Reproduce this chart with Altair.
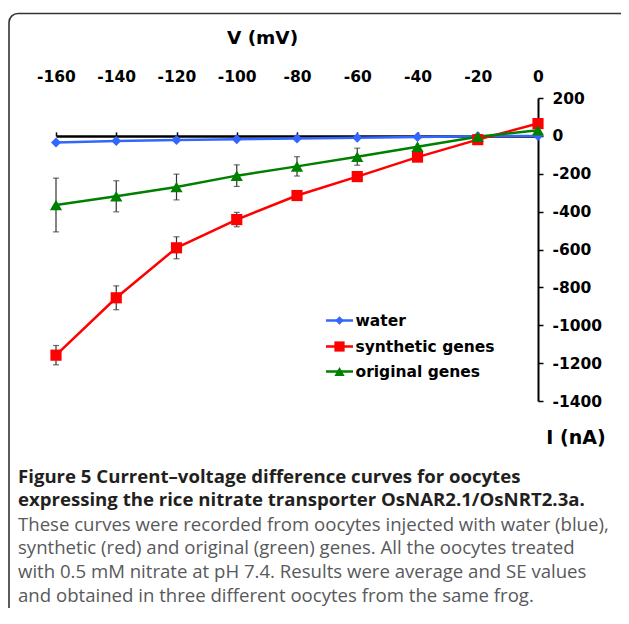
import altair as alt
import pandas as pd

# ---------------- data ----------------
voltages = [-160, -140, -120, -100, -80, -60, -40, -20, 0]
series_names = ["water", "synthetic genes", "original genes"]
water = [-35, -27, -22, -18, -14, -10, -6, -2, 0]
synthetic = [-1158, -855, -591, -442, -315, -215, -112, -20, 65]
original = [-365, -319, -270, -210, -161, -110, -57, -5, 30]
water_se = [0, 0, 0, 0, 0, 0, 0, 0, 0]
synthetic_se = [51, 63, 58, 38, 0, 0, 0, 0, 0]
original_se = [142, 82, 68, 57, 51, 45, 0, 0, 0]

x_ticks = [-160, -140, -120, -100, -80, -60, -40, -20, 0]
y_ticks = [200, 0, -200, -400, -600, -800, -1000, -1200, -1400]

x_title = "V (mV)"
y_title = "I (nA)"
caption_bold = ["Figure 5 Current\u2013voltage difference curves for oocytes",
                "expressing the rice nitrate transporter OsNAR2.1/OsNRT2.3a."]
caption_body = ["These curves were recorded from oocytes injected with water (blue),",
                "synthetic (red) and original (green) genes. All the oocytes treated",
                "with 0.5 mM nitrate at pH 7.4. Results were average and SE values",
                "and obtained in three different oocytes from the same frog."]

colors = ["#3366FF", "#FF0000", "#008000"]
shapes = ["diamond", "square", "triangle-up"]
sizes = [100, 150, 150]

rows = []
for name, vals, ses in zip(series_names, [water, synthetic, original],
                           [water_se, synthetic_se, original_se]):
    for v, i, se in zip(voltages, vals, ses):
        rows.append({"series": name, "V": v, "I": i, "se": se,
                     "lo": i - se, "hi": i + se})
df = pd.DataFrame(rows)
df_err = df[df["se"] > 0].reset_index(drop=True)

W, H = 482, 303
FONT = "DejaVu Sans"
CAP_FONT = "Open Sans"
LABEL_EXPR = "'' + datum.value"

color_scale = alt.Scale(domain=series_names, range=colors)
shape_scale = alt.Scale(domain=series_names, range=shapes)
size_scale = alt.Scale(domain=series_names, range=sizes)

x_scale = alt.Scale(domain=[-160, 0], nice=False, zero=False)
y_scale = alt.Scale(domain=[-1400, 200], nice=False, zero=False)

y_axis = alt.Axis(orient="right", values=y_ticks, grid=False, title=None,
                  domainColor="black", domainWidth=2, tickColor="black",
                  tickWidth=1.5, tickSize=5, labelFont=FONT, labelFontSize=15.5,
                  labelFontWeight="bold", labelColor="black", labelPadding=9,
                  labelFlush=False, labelOverlap=False, labelExpr=LABEL_EXPR)
top_axis = alt.Axis(orient="top", values=x_ticks, grid=False, title=None,
                    domain=False, ticks=False, labelFont=FONT, labelFontSize=15.5,
                    labelFontWeight="bold", labelColor="black", labelPadding=14,
                    labelFlush=False, labelOverlap=False, labelExpr=LABEL_EXPR)
zero_axis = alt.Axis(orient="top", offset=-H * 200 / 1600, values=x_ticks,
                     grid=False, title=None, labels=False, domainColor="black",
                     domainWidth=2.5, tickColor="black", tickWidth=1.5, tickSize=4)

def X(axis):
    return alt.X("V:Q", scale=x_scale, axis=axis)

def Y(field="I"):
    return alt.Y(f"{field}:Q", scale=y_scale, axis=y_axis)

one = pd.DataFrame({"k": [0]})

border = alt.Chart(one).mark_rect(
    fill="white", fillOpacity=0, stroke="#333333", strokeWidth=1.6, cornerRadius=9
).encode(x=alt.value(-47), x2=alt.value(700), y=alt.value(-84.5), y2=alt.value(800))

err_rule = alt.Chart(df_err).mark_rule(color="#333333", strokeWidth=1.2).encode(
    x=X(None), y=Y("lo"), y2="hi:Q")
err_caps = alt.Chart(df_err).transform_fold(["lo", "hi"], as_=["end", "val"]).mark_tick(
    orient="horizontal", size=6, thickness=1.2, color="#333333").encode(
    x=X(None), y=alt.Y("val:Q", scale=y_scale, axis=y_axis))

lines = alt.Chart(df).mark_line(strokeWidth=2.5).encode(
    x=X(top_axis), y=Y(),
    color=alt.Color("series:N", scale=color_scale, legend=None),
    order=alt.Order("V:Q"))

points = alt.Chart(df).mark_point(filled=True, opacity=1).encode(
    x=X(zero_axis), y=Y(),
    color=alt.Color("series:N", scale=color_scale, legend=None),
    shape=alt.Shape("series:N", scale=shape_scale, legend=None),
    size=alt.Size("series:N", scale=size_scale, legend=None))

xt = alt.Chart(pd.DataFrame({"t": [x_title]})).mark_text(
    font=FONT, fontSize=18.5, fontWeight="bold", color="black",
    align="center", baseline="middle").encode(
    x=alt.value(206.5), y=alt.value(-60), text="t:N")
yt = alt.Chart(pd.DataFrame({"t": [y_title]})).mark_text(
    font=FONT, fontSize=19, fontWeight="bold", color="black",
    align="center", baseline="middle").encode(
    x=alt.value(520), y=alt.value(339.5), text="t:N")

legend_layers = []
leg_y = [222.5, 248.5, 273.5]
for name, c, s, sz, ly in zip(series_names, colors, shapes, sizes, leg_y):
    d = pd.DataFrame({"name": [name]})
    legend_layers.append(alt.Chart(d).mark_rule(color=c, strokeWidth=2.5).encode(
        x=alt.value(270), x2=alt.value(297), y=alt.value(ly)))
    legend_layers.append(alt.Chart(d).mark_point(
        filled=True, opacity=1, color=c, shape=s, size=sz * 0.7).encode(
        x=alt.value(283.5), y=alt.value(ly)))
    legend_layers.append(alt.Chart(d).mark_text(
        font=FONT, fontSize=15.5, fontWeight="bold", color="black",
        align="left", baseline="middle").encode(
        x=alt.value(299.5), y=alt.value(ly), text="name:N"))

cap1 = alt.Chart(pd.DataFrame({"t": ["\n".join(caption_bold)]})).mark_text(
    font=CAP_FONT, fontSize=18.6, fontWeight="bold", color="#231F20",
    align="left", baseline="alphabetic", lineBreak="\n", lineHeight=23.5).encode(
    x=alt.value(-38), y=alt.value(384.5), text="t:N")
cap2 = alt.Chart(pd.DataFrame({"t": ["\n".join(caption_body)]})).mark_text(
    font=CAP_FONT, fontSize=18.6, color="#58595B",
    align="left", baseline="alphabetic", lineBreak="\n", lineHeight=23.8).encode(
    x=alt.value(-38), y=alt.value(432.5), text="t:N")

chart = alt.layer(
    border, err_rule, err_caps, lines, points, xt, yt, *legend_layers, cap1, cap2
).resolve_axis(x="independent").properties(
    width=W, height=H,
    autosize=alt.AutoSizeParams(type="none"),
    padding={"left": 48, "top": 90, "right": 83, "bottom": 207},
    background="white",
).configure_view(stroke=None)

chart.save("out.html", embed_options={"renderer": "svg", "actions": False})
